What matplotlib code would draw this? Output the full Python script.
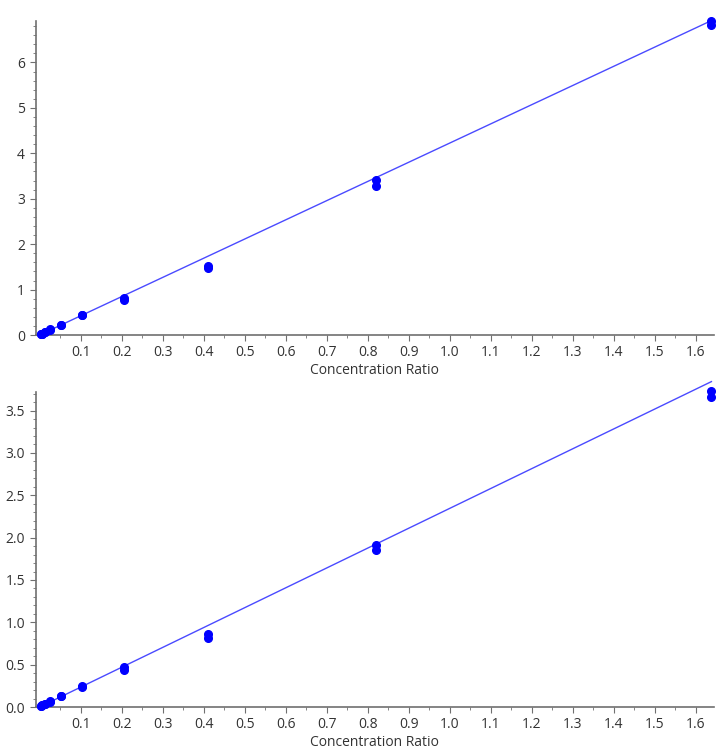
import numpy as np
import matplotlib
matplotlib.use("Agg")
import matplotlib.pyplot as plt
from matplotlib.ticker import MultipleLocator, FormatStrFormatter

plt.rcParams['font.family'] = ['Open Sans', 'DejaVu Sans']

# concentration ratios (two replicates each)
conc = [0.0032, 0.0064, 0.0128, 0.0256, 0.0512, 0.1024, 0.2048, 0.4096, 0.8192, 1.6384]
top_a = [0.015, 0.03, 0.065, 0.125, 0.22, 0.45, 0.82, 1.53, 3.41, 6.92]
top_b = [0.015, 0.03, 0.06, 0.12, 0.22, 0.43, 0.78, 1.47, 3.29, 6.82]
bot_a = [0.01, 0.02, 0.035, 0.07, 0.13, 0.25, 0.47, 0.86, 1.91, 3.73]
bot_b = [0.01, 0.02, 0.03, 0.065, 0.13, 0.24, 0.44, 0.81, 1.85, 3.66]
# fitted calibration lines (slope, intercept)
top_fit = (4.225, 0.0)
bot_fit = (2.345, 0.0)

xticks = [0.1, 0.2, 0.3, 0.4, 0.5, 0.6, 0.7, 0.8, 0.9, 1.0, 1.1, 1.2, 1.3, 1.4, 1.5, 1.6]

fig = plt.figure(figsize=(7.25, 7.52), dpi=100)
ax1 = fig.add_axes([0.049, 0.5545, 0.936, 0.418])
ax2 = fig.add_axes([0.049, 0.0598, 0.936, 0.419])

gray = '#707070'
txt = '#333333'

def style(ax, ymax, major, minor, fmt):
    x = np.array(conc)
    for ys in (top_a, bot_a):
        pass
    ax.set_xlim(-0.01, 1.645)
    ax.set_ylim(0, ymax)
    ax.set_xticks(xticks)
    ax.xaxis.set_major_formatter(FormatStrFormatter('%.1f'))
    ax.xaxis.set_minor_locator(MultipleLocator(0.05))
    ax.yaxis.set_major_locator(MultipleLocator(major))
    ax.yaxis.set_minor_locator(MultipleLocator(minor))
    ax.yaxis.set_major_formatter(FormatStrFormatter(fmt))
    for s in ('top', 'right'):
        ax.spines[s].set_visible(False)
    for s in ('left', 'bottom'):
        ax.spines[s].set_color(gray)
        ax.spines[s].set_linewidth(1.2)
    ax.tick_params(which='major', length=4, color=gray, labelcolor=txt, labelsize=10)
    ax.tick_params(which='minor', length=2, color=gray)
    ax.set_xlabel('Concentration Ratio', color=txt, fontsize=10, labelpad=2)

fx = np.array([0.0, 1.6384])

style(ax1, 6.92, 1, 0.2, '%d')
ax1.plot(fx, top_fit[0] * fx + top_fit[1], color='#4a4aff', lw=1, clip_on=False, zorder=2)
ax1.plot(conc, top_a, 'o', color='#0000ff', ms=5.5, clip_on=False, zorder=3)
ax1.plot(conc, top_b, 'o', color='#0000ff', ms=5.5, clip_on=False, zorder=3)

style(ax2, 3.72, 0.5, 0.1, '%.1f')
ax2.plot(fx, bot_fit[0] * fx + bot_fit[1], color='#4a4aff', lw=1, clip_on=False, zorder=2)
ax2.plot(conc, bot_a, 'o', color='#0000ff', ms=5.5, clip_on=False, zorder=3)
ax2.plot(conc, bot_b, 'o', color='#0000ff', ms=5.5, clip_on=False, zorder=3)

fig.savefig('out.png', dpi=100)
